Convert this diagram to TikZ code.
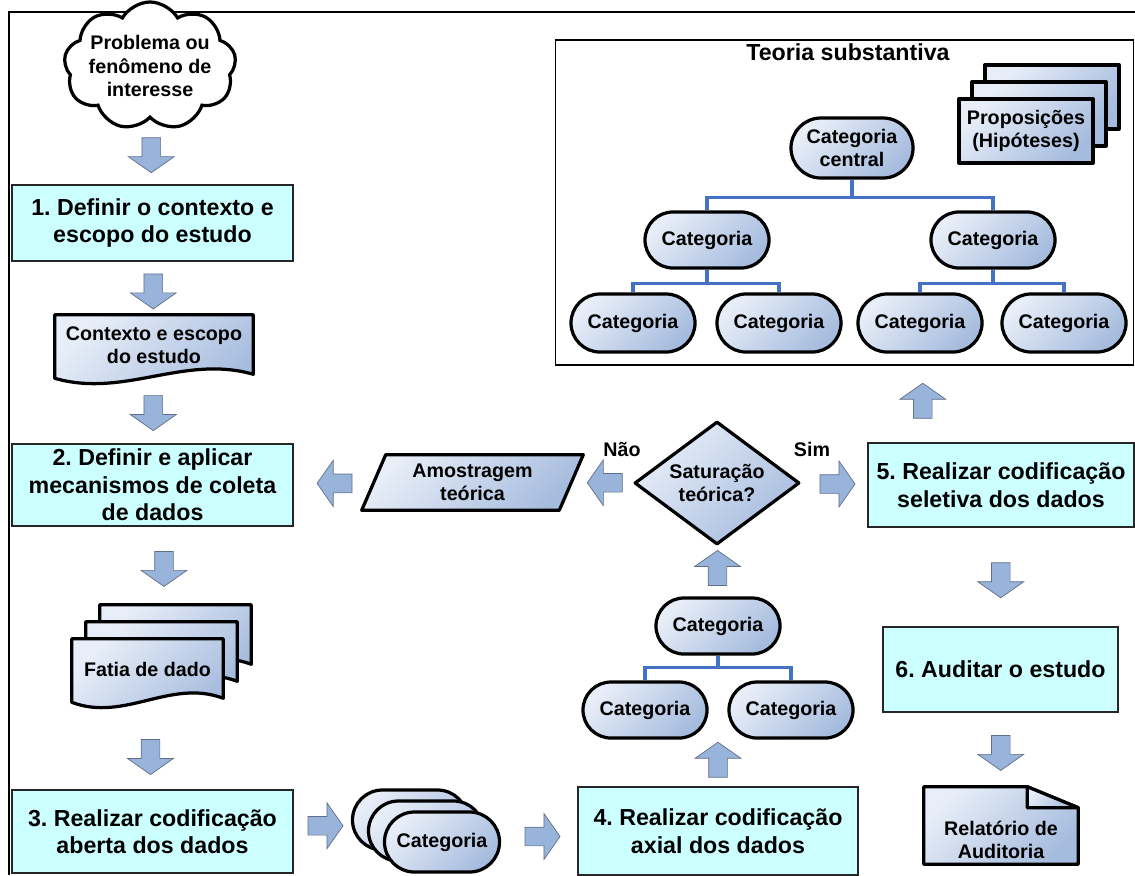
\documentclass[tikz,border=0pt]{standalone}
\usepackage{fontspec}
\setmainfont{Liberation Sans}
\usepackage{tikz}
\usetikzlibrary{shapes.geometric,shapes.symbols,shapes.misc,shapes.arrows,positioning,calc,backgrounds}
\definecolor{stepcyan}{RGB}{204,255,255}
\definecolor{gradlight}{RGB}{232,238,248}
\definecolor{graddark}{RGB}{166,188,222}
\definecolor{arrowblue}{RGB}{152,180,218}
\definecolor{arrowedge}{RGB}{96,110,135}
\definecolor{treeblue}{RGB}{68,114,196}
\newcommand{\stepfont}{\bfseries\fontsize{16.5}{19.5}\selectfont}
\newcommand{\catfont}{\bfseries\fontsize{14}{16.4}\selectfont}
\frenchspacing
% document shape with wavy bottom, drawn round a named node
\newcommand{\docwave}[1]{%
  \draw[shapeline, gradfill] (#1.north west) -- (#1.north east) -- ($(#1.south east)+(0,-2)$)
    .. controls ($(#1.south east)!0.35!(#1.south west)+(0,-22)$) and ($(#1.south east)!0.65!(#1.south west)+(0,22)$) .. ($(#1.south west)+(0,2)$) -- cycle;}

\begin{document}
\begin{tikzpicture}[
    x=0.025cm, y=-0.025cm,
    stepbox/.style={rectangle, draw=black!85, line width=0.8pt, fill=stepcyan, align=center, font=\stepfont, inner sep=0pt},
    gradfill/.style={top color=gradlight, bottom color=graddark, shading angle=45},
    shapeline/.style={draw=black, line width=2.3pt, line join=round},
    catnode/.style={rounded rectangle, shapeline, gradfill, minimum width=3.1cm, minimum height=1.4cm, align=center, font=\catfont, inner sep=0pt},
    propbox/.style={rectangle, shapeline, gradfill, minimum width=3.35cm, minimum height=1.6cm, align=center, font=\catfont, inner sep=0pt},
    shapetext/.style={align=center, font=\catfont, inner sep=0pt},
    blockarrow/.style={single arrow, draw=arrowedge, line width=0.5pt, fill=arrowblue, inner xsep=0pt, inner ysep=0pt, text height=0.45cm, text depth=0pt, minimum height=0.875cm, single arrow head extend=0.34cm, single arrow tip angle=110},
    treeline/.style={draw=treeblue, line width=2.2pt},
]
\useasboundingbox (0,0) rectangle (1135,875);

% === FRAME ===
\draw[line width=1.4pt] (1135,12) -- (9,12) -- (9,875);

% === LEFT COLUMN ===
\node[cloud, cloud puffs=9, cloud puff arc=120, cloud ignores aspect, draw, line width=2.3pt, fill=white, minimum width=4.3cm, minimum height=3.2cm, inner sep=0pt,
  label={[shapetext]center:Problema ou\\fenômeno de\\interesse}] (problema) at (150,66) {};
\node[stepbox, minimum width=7.025cm, minimum height=1.9cm] (contexto) at (152.5,223) {1. Definir o contexto e\\escopo do estudo};
\node[shapetext, minimum width=4.95cm, minimum height=1.525cm] (escopo) at (154,345.5) {Contexto e escopo\\do estudo};
\node[stepbox, minimum width=7.025cm, minimum height=2.05cm] (coleta) at (152.5,485) {2. Definir e aplicar\\mecanismos de coleta\\de dados};
\node[minimum width=3.775cm, minimum height=1.525cm] (fatiaC) at (175.5,635.5) {};
\node[minimum width=3.775cm, minimum height=1.525cm] (fatiaB) at (161.5,652.5) {};
\node[shapetext, minimum width=3.775cm, minimum height=1.525cm] (fatia) at (147.5,669.5) {Fatia de dado};
\node[stepbox, minimum width=7.025cm, minimum height=2.075cm] (aberta) at (152.5,831.5) {3. Realizar codificação\\aberta dos dados};

% === OPEN CODING OUTPUT ===
\node[catnode, minimum width=2.875cm, minimum height=1.5cm] (abertaC) at (410,820) {};
\node[catnode, minimum width=2.875cm, minimum height=1.5cm] (abertaB) at (426,831) {};
\node[catnode, minimum width=2.875cm, minimum height=1.5cm] (categ) at (442,842) {Categoria};
\node[stepbox, minimum width=7cm, minimum height=2.2cm] (axial) at (718,831) {4. Realizar codificação\\axial dos dados};

% === AXIAL TREE ===
\node[catnode] (axtop) at (718,626) {Categoria};
\node[catnode] (axleft) at (645,710) {Categoria};
\node[catnode] (axright) at (791,710) {Categoria};
\draw[treeline] (axtop.south) -- ++(0,12) -| (axleft.north);
\draw[treeline] (axtop.south) -- ++(0,12) -| (axright.north);

% === DECISION ===
\node[diamond, shapeline, gradfill, aspect=1.34, minimum width=4.125cm, minimum height=3.075cm, inner sep=0pt, align=center, font=\catfont] (saturacao) at (717,483) {Saturação\\teórica?};
\node[font=\catfont] (nao) at (622,449) {Não};
\node[font=\catfont] (sim) at (812,449) {Sim};
\node[shapetext, minimum width=5.525cm, minimum height=1.375cm] (amostragem) at (472.5,482.5) {Amostragem\\teórica};

% === RIGHT COLUMN ===
\node[stepbox, minimum width=6.65cm, minimum height=2.1cm] (seletiva) at (1001,485) {5. Realizar codificação\\seletiva dos dados};
\node[stepbox, minimum width=5.875cm, minimum height=2.125cm] (auditar) at (1000.5,669.5) {6. Auditar o estudo};
\node[shapetext, minimum width=3.85cm, minimum height=1.925cm,
  label={[shapetext, yshift=-0.35cm]center:Relatório de\\Auditoria}] (relatorio) at (1001,825.5) {};

% === SUBSTANTIVE THEORY ===
\node[draw, line width=0.8pt, minimum width=14.425cm, minimum height=8.125cm, inner sep=0pt] (teoria) at (844.5,202.5) {};
\node[font=\stepfont] (titulo) at (848,52) {Teoria substantiva};
\node[propbox] (propC) at (1052,97) {};
\node[propbox] (propB) at (1039,114) {};
\node[propbox] (proposicoes) at (1026,131) {Proposições\\(Hipóteses)};
\node[catnode, minimum width=3.05cm, minimum height=1.5cm] (central) at (852,148) {Categoria\\central};
\node[catnode] (catA) at (707,240) {Categoria};
\node[catnode] (catB) at (993,240) {Categoria};
\node[catnode, minimum height=1.45cm] (catA1) at (633,323) {Categoria};
\node[catnode, minimum height=1.45cm] (catA2) at (779,323) {Categoria};
\node[catnode, minimum height=1.45cm] (catB1) at (920,323) {Categoria};
\node[catnode, minimum height=1.45cm] (catB2) at (1064,323) {Categoria};
\draw[treeline] (central.south) -- ++(0,18) -| (catA.north);
\draw[treeline] (central.south) -- ++(0,18) -| (catB.north);
\draw[treeline] (catA.south) -- ++(0,14) -| (catA1.north);
\draw[treeline] (catA.south) -- ++(0,14) -| (catA2.north);
\draw[treeline] (catB.south) -- ++(0,14) -| (catB1.north);
\draw[treeline] (catB.south) -- ++(0,14) -| (catB2.north);

% === CUSTOM SHAPES ===
\begin{scope}[on background layer]
  \docwave{escopo}
  \docwave{fatiaC}
  \docwave{fatiaB}
  \docwave{fatia}
  \draw[shapeline, gradfill] (amostragem.south west) -- ($(amostragem.north west)+(24,0)$) -- (amostragem.north east) -- ($(amostragem.south east)+(-24,0)$) -- cycle;
  \draw[shapeline, gradfill] (relatorio.south west) -- (relatorio.north west) -- ($(relatorio.north east)+(-51,0)$) -- ($(relatorio.north east)+(0,21)$) -- (relatorio.south east) -- cycle;
  \draw[shapeline, gradfill] ($(relatorio.north east)+(-51,0)$) -- ($(relatorio.north east)+(-51,21)$) -- ($(relatorio.north east)+(0,21)$) -- cycle;
\end{scope}

% === BLOCK ARROWS ===
\node[blockarrow, rotate=-90] (a1) at ($(problema.south)!0.5!(contexto.north)$) {};
\node[blockarrow, rotate=-90] (a2) at ($(contexto.south)!0.5!(escopo.north)$) {};
\node[blockarrow, rotate=-90] (a3) at ($(escopo.south)!0.5!(coleta.north)$) {};
\node[blockarrow, rotate=-90] (a4) at ($(coleta.south)!0.5!(fatiaC.north)$) {};
\node[blockarrow, rotate=-90] (a5) at ($(fatia.south)!0.6!(aberta.north)$) {};
\node[blockarrow] (a6) at ($(aberta.east)!0.5!(abertaC.west)$) {};
\node[blockarrow] (a7) at ($(categ.east)!0.5!(axial.west)$) {};
\node[blockarrow, rotate=90] (a8) at ($(axial.north)!0.5!(axial.north |- axleft.south)$) {};
\node[blockarrow, rotate=90] (a9) at ($(axtop.north)!0.5!(saturacao.south)$) {};
\node[blockarrow, rotate=180] (a10) at ($(saturacao.west)!0.5!(amostragem.east)$) {};
\node[blockarrow, rotate=180] (a11) at ($(amostragem.west)!0.35!(coleta.east)$) {};
\node[blockarrow] (a12) at ($(saturacao.east)!0.5!(seletiva.west)$) {};
\node[blockarrow, rotate=90] (a13) at ($(seletiva.north)!0.5!(teoria.south)$) {};
\node[blockarrow, rotate=-90] (a14) at ($(seletiva.south)!0.5!(auditar.north)$) {};
\node[blockarrow, rotate=-90] (a15) at ($(auditar.south)!0.5!(relatorio.north)$) {};

\end{tikzpicture}
\end{document}
